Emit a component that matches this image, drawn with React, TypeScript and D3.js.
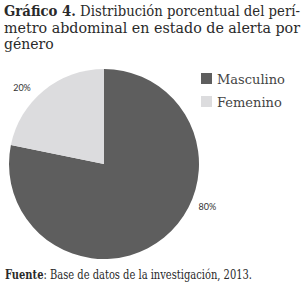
import React from "react";
import * as d3 from "d3";

// data
const categories = ["Masculino", "Femenino"];
const values = [78.2, 21.8];
const labels = ["80%", "20%"];
const colors = ["#5e5e5e", "#dcdcde"];

const titleLines = [
  "Distribución porcentual del perí-",
  "metro abdominal en estado de alerta por",
  "género",
];

const W = 304;
const H = 288;

export default function App() {
  const cx = 104;
  const cy = 164;
  const r = 95;

  const pie = d3.pie<number>().sort(null).value((d) => d)(values);
  const arc = d3.arc<d3.PieArcDatum<number>>().innerRadius(0).outerRadius(r);
  const labelArc = d3.arc<any>().innerRadius(112).outerRadius(112);

  const serif = "'DejaVu Serif', serif";

  return (
    <svg
      width={W}
      height={H}
      style={{ position: "absolute", left: 0, top: 0, background: "#fff" }}
    >
      {/* title */}
      <text x={4} y={16} fontFamily={serif} fontStretch="condensed" fontSize={14} fill="#2a2a2a" textLength={296} lengthAdjust="spacingAndGlyphs">
        <tspan fontWeight="bold">Gráfico 4.</tspan> {titleLines[0]}
      </text>
      <text x={4} y={32.5} fontFamily={serif} fontStretch="condensed" fontSize={14} fill="#2a2a2a" textLength={296} lengthAdjust="spacingAndGlyphs">
        {titleLines[1]}
      </text>
      <text x={4} y={49} fontFamily={serif} fontSize={14} fill="#2a2a2a">
        {titleLines[2]}
      </text>

      {/* pie */}
      <g transform={`translate(${cx},${cy})`}>
        {pie.map((d, i) => (
          <path key={i} d={arc(d) as string} fill={colors[i]} />
        ))}
        {pie.map((d, i) => {
          const a = d.startAngle + (d.endAngle - d.startAngle) * 0.4;
          const [x, y] = labelArc.centroid({ startAngle: a, endAngle: a });
          return (
            <text key={i} x={x} y={y} dy="0.35em" textAnchor="middle" fontFamily="Lato, sans-serif" fontSize={9} fill="#333">
              {labels[i]}
            </text>
          );
        })}
      </g>

      {/* legend */}
      {categories.map((c, i) => (
        <g key={c} transform={`translate(201,${73 + i * 23})`}>
          <rect width={11} height={11} fill={colors[i]} />
          <text x={16} y={10.5} fontFamily={serif} fontSize={13} fill="#444">
            {c}
          </text>
        </g>
      ))}

      {/* source */}
      <text x={5} y={279} fontFamily={serif} fontStretch="condensed" fontSize={12} fill="#2a2a2a" textLength={247} lengthAdjust="spacingAndGlyphs">
        <tspan fontWeight="bold">Fuente</tspan>: Base de datos de la investigación, 2013.
      </text>
    </svg>
  );
}
